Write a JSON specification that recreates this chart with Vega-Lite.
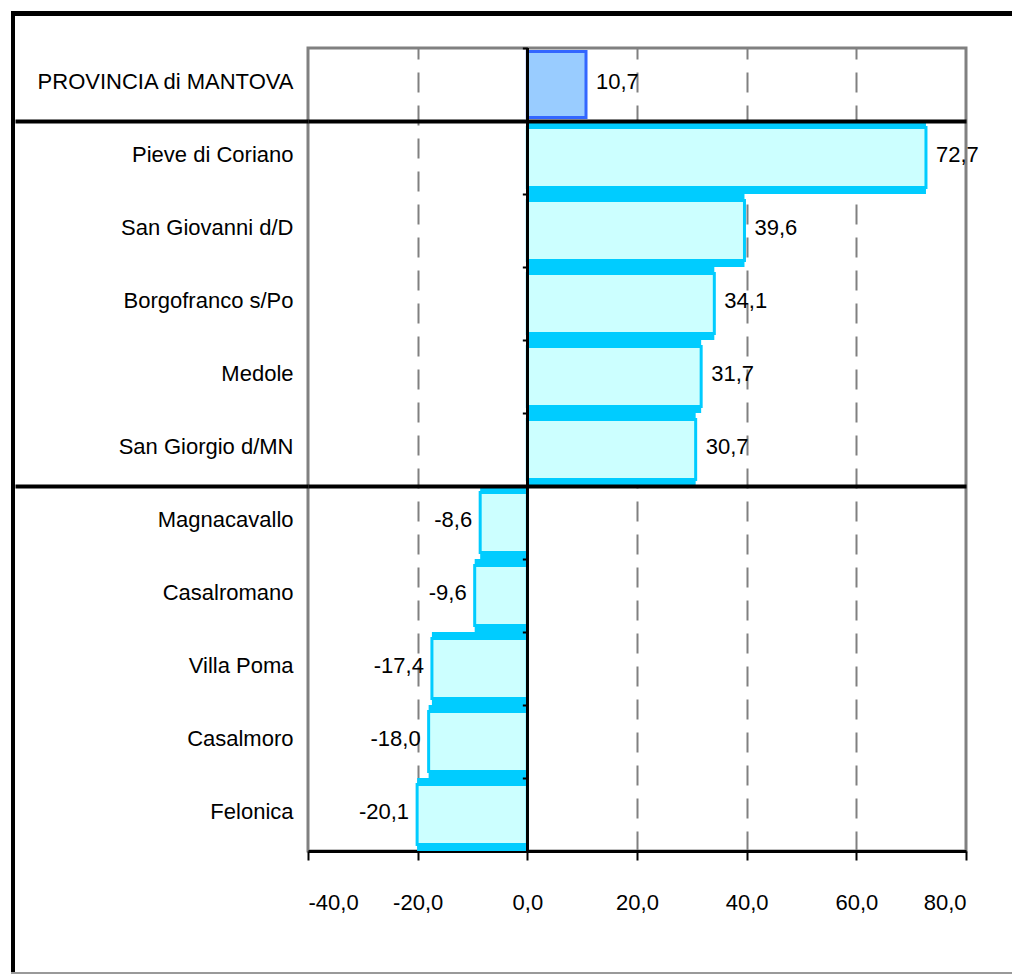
{
  "$schema": "https://vega.github.io/schema/vega-lite/v6.json",
  "padding": {"left": 11, "top": 11, "right": 0, "bottom": 0},
  "background": "white",
  "config": {
    "locale": {"number": {"decimal": ",", "thousands": ".", "grouping": [3], "currency": ["", " €"], "minus": "-"}},
    "view": {"stroke": "#808080", "strokeWidth": 3},
    "axis": {"labelFont": "Liberation Sans, Arial, sans-serif", "labelFontSize": 22, "labelColor": "black"},
    "axisY": {"maxExtent": 400, "labelLimit": 0},
    "text": {"font": "Liberation Sans, Arial, sans-serif", "fontSize": 22, "color": "black"}
  },
  "spacing": 0,
  "vconcat": [
    {"width": 1001, "height": 5, "view": {"fill": "black", "stroke": null}, "data": {"values": []}, "mark": "rule", "encoding": {}},
    {
      "spacing": -4,
      "hconcat": [
        {"width": 4, "height": 956, "view": {"fill": "black", "stroke": null}, "data": {"values": []}, "mark": "rule", "encoding": {}},
        {
          "spacing": 28,
          "vconcat": [
            {"width": 1, "height": 1, "view": {"fill": null, "stroke": null}, "data": {"values": []}, "mark": "rule", "encoding": {}},
            {
              "width": 658,
              "height": 803,
              "data": {"values": [
                {"name": "PROVINCIA di MANTOVA", "v": 10.7, "group": "provincia"},
                {"name": "Pieve di Coriano", "v": 72.7, "group": "comune"},
                {"name": "San Giovanni d/D", "v": 39.6, "group": "comune"},
                {"name": "Borgofranco s/Po", "v": 34.1, "group": "comune"},
                {"name": "Medole", "v": 31.7, "group": "comune"},
                {"name": "San Giorgio d/MN", "v": 30.7, "group": "comune"},
                {"name": "Magnacavallo", "v": -8.6, "group": "comune"},
                {"name": "Casalromano", "v": -9.6, "group": "comune"},
                {"name": "Villa Poma", "v": -17.4, "group": "comune"},
                {"name": "Casalmoro", "v": -18.0, "group": "comune"},
                {"name": "Felonica", "v": -20.1, "group": "comune"}
              ]},
              "resolve": {"axis": {"y": "independent"}},
              "layer": [
                {
                  "mark": {"type": "bar", "fill": "#00CCFF"},
                  "encoding": {
                    "y": {"field": "name", "type": "nominal", "sort": null, "title": null,
                      "scale": {"domain": ["PROVINCIA di MANTOVA", "Pieve di Coriano", "San Giovanni d/D", "Borgofranco s/Po", "Medole", "San Giorgio d/MN", "Magnacavallo", "Casalromano", "Villa Poma", "Casalmoro", "Felonica"], "paddingInner": 0, "paddingOuter": 0},
                      "axis": {"orient": "left", "ticks": false, "domain": false, "grid": false, "labelPadding": 15, "labelOffset": -3}},
                    "x": {"field": "v", "type": "quantitative", "title": null,
                      "scale": {"domain": [-40, 80], "nice": false, "zero": false},
                      "axis": {"values": [-40, -20, 0, 20, 40, 60, 80], "format": ".1f", "domainColor": "black", "domainWidth": 3, "tickColor": "black", "tickWidth": 2, "tickSize": 9, "labelPadding": 32, "grid": true, "gridColor": "#808080", "gridWidth": 2, "gridDash": [20, 13],
                        "gridOpacity": {"condition": {"test": "datum.value === -40 || datum.value === 80 || datum.value === 0", "value": 0}, "value": 1}}},
                    "opacity": {"condition": {"test": "datum.group === 'provincia'", "value": 0}, "value": 1}
                  }
                },
                {
                  "mark": {"type": "bar", "strokeWidth": 3},
                  "encoding": {
                    "y": {"field": "name", "type": "nominal", "sort": null, "title": null,
                      "axis": {"orient": "left", "values": ["Pieve di Coriano", "Magnacavallo"], "labels": false, "domain": false, "ticks": true, "tickSize": 293, "tickWidth": 4, "tickColor": "black", "grid": true, "gridColor": "black", "gridWidth": 4, "bandPosition": 0, "zindex": 1}},
                    "x": {"field": "v", "type": "quantitative", "title": null},
                    "size": {"condition": {"test": "datum.group === 'provincia'", "value": 66}, "value": 60},
                    "fill": {"condition": {"test": "datum.group === 'provincia'", "value": "#99CCFF"}, "value": "#CCFFFF"},
                    "stroke": {"condition": {"test": "datum.group === 'provincia'", "value": "#3366FF"}, "value": "#00CCFF"}
                  }
                },
                {
                  "mark": {"type": "rule", "color": "black", "strokeWidth": 2},
                  "encoding": {"x": {"datum": 0, "type": "quantitative"}}
                },
                {
                  "transform": [{"filter": "datum.v >= 0"}],
                  "mark": {"type": "text", "align": "left", "baseline": "middle", "dx": 10, "dy": -3},
                  "encoding": {
                    "y": {"field": "name", "type": "nominal", "sort": null, "title": null,
                      "axis": {"orient": "left", "offset": -219.33, "labels": false, "domain": false, "ticks": true, "tickSize": 5, "tickWidth": 2, "tickColor": "black", "grid": false, "bandPosition": 0, "zindex": 1}},
                    "x": {"field": "v", "type": "quantitative", "title": null},
                    "text": {"field": "v", "type": "quantitative", "format": ".1f"}
                  }
                },
                {
                  "transform": [{"filter": "datum.v < 0"}],
                  "mark": {"type": "text", "align": "right", "baseline": "middle", "dx": -8, "dy": -3},
                  "encoding": {
                    "y": {"field": "name", "type": "nominal", "sort": null, "title": null, "axis": null},
                    "x": {"field": "v", "type": "quantitative", "title": null},
                    "text": {"field": "v", "type": "quantitative", "format": ".1f"}
                  }
                }
              ]
            }
          ]
        }
      ]
    },
    {"width": 1001, "height": 2, "view": {"fill": "#999999", "stroke": null}, "data": {"values": []}, "mark": "rule", "encoding": {}}
  ]
}
